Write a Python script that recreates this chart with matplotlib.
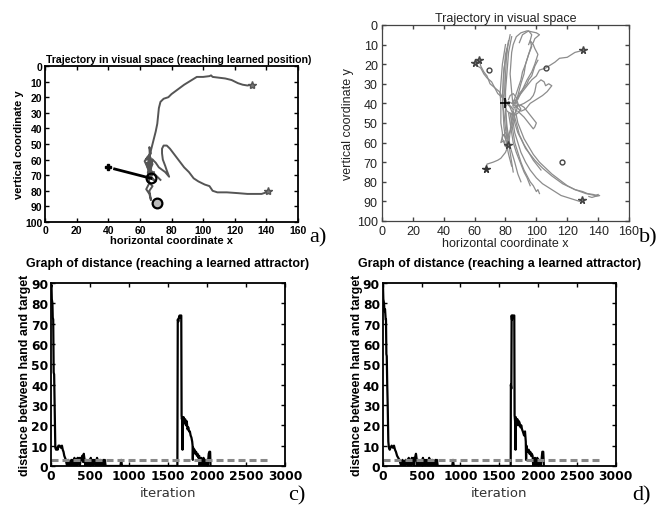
import matplotlib
matplotlib.use("Agg")
import matplotlib.pyplot as plt
from matplotlib.font_manager import FontProperties

# ---- panel a: trajectory reaching the learned position ----
a_path1_x = [131, 128, 125, 122, 118, 114, 110, 106, 105, 104, 100, 96, 92, 88, 84, 80, 78, 75, 73, 72, 71.5, 71, 70, 69, 68,
             67, 66, 67, 65, 66, 68, 67, 64, 66, 69, 67, 70, 67]
a_path1_y = [12, 12.5, 12, 11, 9, 8, 7.5, 7, 6, 6.5, 7, 7, 9.5, 12, 15, 18, 20, 21, 23, 27, 32, 37, 42, 46, 50,
             54, 57, 60, 62, 64, 60, 66, 62, 69, 68, 71, 74, 72]
a_cluster_x = [67, 66, 67, 64, 66, 68, 65, 66, 64, 66, 67, 66, 68, 65, 67, 63, 65, 66, 70, 73]
a_cluster_y = [72, 52, 56, 60, 57, 63, 68, 75, 79, 82, 86, 80, 77, 74, 70, 61, 58, 66, 70, 73]
a_path2_x = [141, 140, 137, 133, 128, 122, 115, 109, 106, 104, 101, 97, 94, 91, 88, 85, 82, 79, 77, 75, 74, 74, 74.5,
             76, 77, 78.5, 76, 72, 70, 68]
a_path2_y = [80, 81, 82, 82, 82, 81.5, 81, 81, 80, 77, 76, 74, 72, 68, 65, 61, 57, 53, 51, 51, 53, 56, 60,
             64, 67, 71, 68, 65, 62, 60]
a_stars_x = [131, 141]
a_stars_y = [12.5, 80]
a_arrow_x = [44, 67]
a_arrow_y = [66, 72]
a_start = (40, 65)
a_reached = (67, 72)
a_target = (71, 88)

# ---- panel b: many trajectories in visual space ----
b_paths = [
    ([130, 125, 120, 115, 112, 110, 106, 102, 100, 97, 95, 92, 90, 87, 85], [13, 14, 16.5, 17, 19, 20, 22, 23, 26, 28, 30, 33, 35, 38, 41]),
    ([60.5, 62, 64, 66, 68, 71, 73, 76, 78, 80, 82, 85], [19, 21, 22, 25, 27, 29, 32, 34, 37, 38, 41, 43]),
    ([63, 64, 66, 68, 70, 73, 75, 78, 80, 84], [18, 21, 24, 26, 30, 32, 35, 37, 39, 42]),
    ([67.5, 68, 70, 72, 75, 77, 79, 80, 82, 83, 83.5, 84, 85], [73, 71, 70.5, 70, 69, 68, 66, 65, 61, 55, 50, 48, 43]),
    ([85, 84, 83, 84, 85, 87, 90, 94, 97, 100, 102, 99, 98, 97, 95, 93, 91, 90, 87, 85],
     [42, 34, 25, 14, 10, 6, 4, 3, 3.5, 4, 5, 7, 9, 10, 15, 20, 24, 28, 35, 40]),
    ([89, 91, 95, 97, 96, 97, 95, 93, 92, 90, 88, 86], [9, 5, 3, 5, 8, 11, 15, 20, 25, 30, 36, 41]),
    ([80, 79, 78, 77, 76.5, 77, 77, 78, 78, 80], [10, 15, 20, 30, 35, 40, 50, 55, 58, 62]),
    ([82, 81, 80, 79, 79, 78, 79, 80, 81, 82], [8, 12, 15, 25, 35, 40, 45, 53, 58, 62]),
    ([84, 83, 82, 81, 80, 80, 80.5, 81, 83, 85], [6, 10, 14, 24, 34, 44, 50, 55, 65, 75]),
    ([81, 80, 79, 78.5, 78, 78.5, 79, 80, 82, 84], [12, 18, 22, 28, 36, 44, 52, 58, 66, 72]),
    ([83, 81.5, 80.5, 80, 79.5, 80, 81, 83, 86, 88, 90], [5, 11, 18, 26, 34, 42, 52, 62, 70, 76, 80]),
    ([86, 88, 90, 92, 95, 98, 102, 106, 110, 115, 120, 125, 130, 133, 137, 139, 141, 138, 136, 134],
     [42, 50, 54, 58, 62, 66, 70, 73, 76, 79, 82, 84, 85, 86, 86.5, 87, 87, 87.5, 88, 87.5]),
    ([85, 87, 89, 92, 95, 99, 104, 110, 117, 125, 132, 138, 140],
     [44, 50, 56, 61, 65, 69, 73, 77, 81, 84, 86, 87, 86.5]),
    ([84, 85, 86, 88, 90, 93, 96, 100, 104, 108, 112, 116, 120, 124, 128],
     [45, 50, 55, 60, 65, 70, 74, 78, 81, 83, 85, 87, 88, 89, 90]),
    ([83, 84, 85, 86, 88, 90, 92, 94, 96, 98, 100, 101, 102], [45, 50, 55, 60, 65, 70, 74, 77, 80, 82, 85, 84, 86]),
    ([82, 83, 84, 85, 87, 89, 91, 92, 94, 96], [45, 50, 55, 60, 65, 69, 73, 75, 78, 82]),
    ([85, 86, 88, 90, 93, 95, 98, 100, 103], [45, 50, 55, 58, 63, 65, 69, 71, 74]),
    ([86, 89, 92, 94, 96, 98, 99, 100, 103, 105, 106, 108, 110, 107, 104, 100, 96, 93, 90, 86],
     [42, 41, 40, 39, 38, 36, 34, 30, 28, 29, 31, 30, 31, 34, 36, 38, 40, 43, 44, 41]),
    ([101, 99, 97, 95, 94, 92, 91, 89, 88, 86], [18, 21, 26, 28, 30, 32, 33, 35, 37, 40]),
    ([80, 78, 77, 79, 80, 82, 79, 81, 84, 86], [55, 57, 60, 59, 62, 62, 56, 58, 52, 46]),
    ([87, 90, 92, 95, 96, 98, 100, 99, 98, 95, 93, 92, 88], [41, 41, 42, 45, 46, 48, 50, 52, 53, 50, 48, 47, 44]),
    ([82, 83, 85, 87, 88, 90, 88, 86, 84, 83, 82], [38, 36, 35, 37, 40, 43, 45, 46, 44, 42, 40]),
    ([80, 82, 84, 86, 88, 87, 85, 83, 81, 80], [42, 39, 40, 38, 41, 44, 46, 45, 44, 42]),
    ([95, 96, 98, 99, 101, 99, 97, 94, 91, 88], [10, 8, 10, 12, 15, 20, 24, 28, 33, 38]),
]
b_stars_x = [130, 62.7, 60.5, 81.5, 129.5]
b_stars_y = [12.9, 18, 19.2, 61.4, 89.5]
b_circles_x = [106, 69.6, 116.8]
b_circles_y = [22, 23, 70]
b_dark_x = [67.5]
b_dark_y = [73.3]
b_plus = (80, 40)

# ---- panels c and d: distance between hand and target ----
c_iter = [0, 6, 10, 18, 22, 28, 34, 40, 50, 55, 65, 75, 85, 95, 110, 125, 140, 150, 160, 170, 180, 190, 200, 210,
          220, 230, 240, 250, 260, 270, 280, 290, 300, 310, 320, 330, 340, 350, 360, 370, 380, 390, 400, 410, 420, 430,
          440, 450, 460, 470, 480, 490, 500, 510, 520, 530, 540, 550, 560, 570, 580, 590, 600, 610, 620, 630, 640, 650,
          660, 670, 680, 690, 700, 710, 890, 900, 910,
          1620, 1625, 1632, 1640, 1648, 1656, 1664, 1670, 1674, 1678, 1683, 1686, 1690, 1700, 1710, 1720, 1730, 1740,
          1750, 1760, 1770, 1780, 1790, 1800, 1810, 1815, 1818, 1822, 1830, 1840, 1850, 1860, 1870, 1880, 1890, 1900,
          1905, 1912, 1918, 1925, 1932, 1940, 1947, 1955, 1962, 1970, 1978, 1985, 1992, 2000, 2010, 2022, 2030, 2040,
          2045]
c_dist = [88, 89, 82, 80, 73, 72, 46, 45, 20, 9, 8, 9, 8, 10, 10, 9, 10, 8, 7, 5, 4, 3, 1, 0,
          3, 0, 2, 0, 3, 1, 3, 0, 4, 0, 3, 0, 4, 1, 4, 0, 4, 3, 5, 2, 6, 3,
          0, 3, 0, 2, 0, 3, 0, 4, 0, 3, 0, 3, 1, 3, 0, 4, 0, 3, 0, 3, 0, 2,
          0, 3, 0, 3, 0, 0, 0, 3, 0,
          0, 72, 71, 73, 74, 73, 74, 74, 25, 23, 24, 8, 22, 24, 21, 23, 20, 22,
          18, 19, 17, 17, 15, 14, 12, 10, 3, 9, 7, 8, 6, 7, 5, 6, 4, 5,
          0, 3, 0, 4, 0, 3, 0, 4, 0, 3, 0, 3, 0, 3, 0, 6, 7, 7,
          0]

d_iter = [0, 3, 8, 17, 22, 30, 38, 42, 47, 52, 58, 64, 72, 80, 90, 100, 115, 130, 145, 158, 170, 185, 200, 215, 230,
          245, 255, 265, 275, 285, 295, 305, 315, 325, 335, 345, 355, 365, 375, 385, 395, 405, 415, 428, 438, 448,
          458, 468, 478, 488, 498, 508, 518, 528, 538, 548, 558, 568, 578, 588, 598, 608, 618, 628, 638, 648, 658,
          668, 678, 688, 698, 708, 716, 895, 905, 915,
          1648, 1650, 1656, 1660, 1664, 1672, 1680, 1688, 1694, 1698, 1704, 1710, 1714, 1724, 1734, 1744, 1754, 1764,
          1774, 1784, 1794, 1804, 1812, 1820, 1832, 1842, 1846, 1850, 1860, 1870, 1880, 1890, 1900, 1910, 1920, 1930,
          1938, 1945, 1952, 1960, 1967, 1975, 1982, 1990, 1997, 2005, 2012, 2020, 2030, 2045, 2055, 2067, 2075]
d_dist = [88, 89, 82, 80, 76, 77, 72, 72, 55, 54, 40, 30, 12, 9, 8, 9, 10, 9, 10, 8, 7, 5, 4, 3, 1,
          0, 3, 0, 2, 0, 3, 1, 3, 0, 4, 0, 3, 0, 4, 1, 4, 0, 4, 6, 3, 0,
          3, 0, 2, 0, 3, 0, 4, 0, 3, 0, 3, 1, 3, 0, 4, 0, 3, 0, 3, 0, 2,
          0, 3, 0, 3, 0, 0, 0, 3, 0,
          0, 40, 38, 74, 72, 74, 73, 74, 74, 25, 22, 8, 24, 21, 23, 20, 22, 21,
          19, 20, 18, 17, 16, 15, 17, 12, 3, 10, 8, 7, 8, 6, 7, 5, 6, 5,
          0, 3, 0, 4, 0, 3, 0, 4, 0, 3, 0, 3, 0, 3, 7, 7, 0]

thresh_iter = [0, 2780]
thresh = [3, 3]

labels = ["a)", "b)", "c)", "d)"]

fig = plt.figure(figsize=(6.67, 5.06), dpi=100)

bold = dict(family="Liberation Sans", weight="bold")


def box_ticks(ax, color="black", lw=1.3):
    ax.tick_params(direction="in", top=True, right=True, length=3, width=1, color=color)
    for s in ax.spines.values():
        s.set_linewidth(lw)
        s.set_color(color)


# panel a
ax = fig.add_axes([0.0675, 0.5593, 0.3793, 0.3083])
ax.plot(a_path1_x, a_path1_y, color="#555555", lw=1.4)
ax.plot(a_cluster_x, a_cluster_y, color="#555555", lw=1.4)
ax.plot(a_path2_x, a_path2_y, color="#555555", lw=1.4)
ax.plot(a_stars_x, a_stars_y, "*", color="#777777", ms=6, mec="#555555")
ax.plot(a_arrow_x, a_arrow_y, color="black", lw=2)
ax.plot(*a_start, "P", color="black", ms=5)
ax.plot(*a_reached, "o", mfc="none", mec="black", ms=7, mew=1.6)
ax.plot(*a_target, "o", mfc="#bbbbbb", mec="black", ms=7, mew=1.6)
ax.set_xlim(0, 160)
ax.set_ylim(100, 0)
ax.set_xticks(range(0, 161, 20))
ax.set_yticks(range(0, 101, 10))
box_ticks(ax)
for t in ax.get_xticklabels() + ax.get_yticklabels():
    t.set_fontproperties(FontProperties(family="Liberation Sans", weight="bold", size=7.5))
ax.tick_params(pad=2)
ax.set_title("Trajectory in visual space (reaching learned position)", fontsize=7.6, pad=3, x=0.53, **bold)
ax.set_xlabel("horizontal coordinate x", fontsize=8, labelpad=0.5, **bold)
ax.set_ylabel("vertical coordinate y", fontsize=8, labelpad=1, **bold)

# panel b
ax = fig.add_axes([0.5727, 0.5613, 0.3703, 0.3874])
for px, py in b_paths:
    ax.plot(px, py, color="#8c8c8c", lw=0.9)
ax.plot(b_stars_x, b_stars_y, "*", color="#777777", mec="#444444", ms=5.5)
ax.plot(b_circles_x, b_circles_y, "o", mfc="none", mec="#444444", ms=3.5, mew=1)
ax.plot(b_dark_x, b_dark_y, "*", color="#333333", ms=5.5)
ax.plot(*b_plus, "+", color="black", ms=7, mew=1.2)
ax.set_xlim(0, 160)
ax.set_ylim(100, 0)
ax.set_xticks(range(0, 161, 20))
ax.set_yticks(range(0, 101, 10))
box_ticks(ax, color="#444444", lw=0.9)
ax.tick_params(labelsize=9, labelcolor="#222222", pad=3)
for t in ax.get_xticklabels() + ax.get_yticklabels():
    t.set_family("Liberation Sans")
ax.set_title("Trajectory in visual space", fontsize=9, family="Liberation Sans", color="#222222", pad=3)
ax.set_xlabel("horizontal coordinate x", fontsize=9, family="Liberation Sans", color="#222222", labelpad=0)
ax.set_ylabel("vertical coordinate y", fontsize=9, family="Liberation Sans", color="#222222", labelpad=2)

# panels c and d
for rect, xs, ys in [([0.0765, 0.0771, 0.3508, 0.3617], c_iter, c_dist),
                     ([0.5738, 0.0771, 0.3493, 0.3617], d_iter, d_dist)]:
    ax = fig.add_axes(rect)
    ax.plot(xs, ys, color="black", lw=1.6)
    ax.plot(thresh_iter, thresh, color="#888888", lw=2.2, dashes=(2.3, 1.3))
    ax.set_xlim(0, 3000)
    ax.set_ylim(0, 90)
    ax.set_xticks(range(0, 3001, 500))
    ax.set_yticks(range(0, 91, 10))
    box_ticks(ax)
    for t in ax.get_xticklabels() + ax.get_yticklabels():
        t.set_fontproperties(FontProperties(family="DejaVu Sans", weight="bold", size=8.8))
    ax.tick_params(pad=2)
    ax.set_title("Graph of distance (reaching a learned attractor)", fontsize=9, pad=12, **bold)
    ax.set_xlabel("iteration", fontsize=9.5, family="DejaVu Sans", color="#333333", labelpad=3)
    ax.set_ylabel("distance between hand and target", fontsize=9, labelpad=0, **bold)

for (x, y), lab in zip([(0.463, 0.52), (0.958, 0.52), (0.432, 0.01), (0.948, 0.01)], labels):
    fig.text(x, y, lab, family="Liberation Serif", fontsize=16)

fig.savefig("out.png", dpi=100)
